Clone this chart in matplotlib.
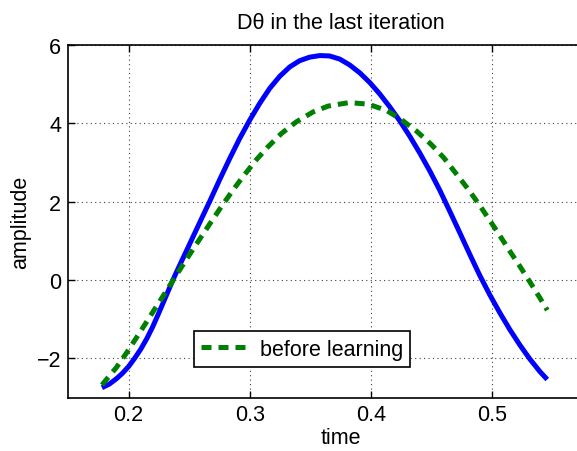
import matplotlib
matplotlib.use("Agg")
import matplotlib.pyplot as plt

plt.rcParams['font.family'] = ['Liberation Sans', 'DejaVu Sans']
plt.rcParams['font.size'] = 15.5

# values
t_after = [0.178, 0.184, 0.190, 0.195, 0.200, 0.205, 0.210, 0.215, 0.220, 0.225,
           0.230, 0.2366, 0.240, 0.245, 0.250, 0.255, 0.260, 0.2669, 0.2752, 0.2835,
           0.2917, 0.300, 0.3083, 0.3165, 0.3248, 0.3331, 0.3413, 0.3496, 0.358, 0.366,
           0.3744, 0.3826, 0.3909, 0.3992, 0.4074, 0.4157, 0.424, 0.4322, 0.4405, 0.4488,
           0.457, 0.4653, 0.4736, 0.4818, 0.4901, 0.4983, 0.5066, 0.5149, 0.5231, 0.5314,
           0.5397, 0.5457]
y_after = [-2.75, -2.66, -2.52, -2.38, -2.21, -2.00, -1.77, -1.50, -1.19, -0.84,
           -0.48, 0.0, 0.23, 0.56, 0.89, 1.22, 1.55, 2.00, 2.56, 3.10,
           3.61, 4.08, 4.51, 4.89, 5.20, 5.44, 5.60, 5.69, 5.73, 5.72,
           5.64, 5.49, 5.29, 5.04, 4.75, 4.42, 4.06, 3.67, 3.24, 2.78,
           2.29, 1.75, 1.20, 0.65, 0.11, -0.38, -0.84, -1.27, -1.66, -2.02,
           -2.34, -2.54]

t_before = [0.178, 0.1898, 0.1986, 0.2072, 0.2155, 0.2237, 0.232, 0.2408, 0.2504, 0.2595,
            0.2683, 0.2766, 0.2854, 0.2945, 0.3055, 0.3151, 0.3262, 0.3386, 0.3523, 0.3647,
            0.3821, 0.3978, 0.413, 0.4254, 0.4378, 0.4496, 0.4603, 0.4804, 0.4887, 0.497,
            0.506, 0.5143, 0.5231, 0.5314, 0.5391, 0.5457]
y_before = [-2.68, -2.24, -1.85, -1.44, -1.04, -0.64, -0.24, 0.19, 0.65, 1.08,
            1.49, 1.87, 2.26, 2.64, 3.07, 3.40, 3.74, 4.04, 4.29, 4.44,
            4.53, 4.49, 4.33, 4.09, 3.80, 3.47, 3.12, 2.32, 1.96, 1.58,
            1.16, 0.76, 0.35, -0.05, -0.43, -0.77]

xticks = [0.2, 0.3, 0.4, 0.5]
yticks = [-2, 0, 2, 4, 6]

fig = plt.figure(figsize=(5.77, 4.52), dpi=100)
# axes runs past the right edge, as in the reference crop
ax = fig.add_axes([68/577, 53.5/452, 545/577, 352.5/452])

ax.plot(t_after, y_after, color=(0, 0, 1), lw=3.6, solid_capstyle='butt',
        solid_joinstyle='round')
ax.plot(t_before, y_before, color=(0, 0.5, 0), lw=3.6, dashes=(2.0, 1.4),
        label='before learning')

ax.set_xlim(0.15, 0.6)
ax.set_ylim(-3, 6)
ax.set_xticks(xticks)
ax.set_xticklabels(['%g' % v for v in xticks])
ax.set_yticks(yticks)

ax.grid(True, linestyle=(0, (1, 3)), color='0.25', lw=0.8)
ax.tick_params(direction='in', length=5, width=1, top=True, right=True, pad=5)
for sp in ax.spines.values():
    sp.set_linewidth(1.2)

ax.set_title('D\u03b8 in the last iteration', fontsize=15.5, pad=12)
ax.set_xlabel('time', labelpad=1)
ax.set_ylabel('amplitude', labelpad=4)

leg = ax.legend(loc='lower left', bbox_to_anchor=(0.231, 0.0855), borderaxespad=0,
                fancybox=False, edgecolor='black', framealpha=1,
                handlelength=2.2, handletextpad=0.5, borderpad=0.35)
leg.get_frame().set_linewidth(1.2)

fig.savefig('out.png', dpi=100)
